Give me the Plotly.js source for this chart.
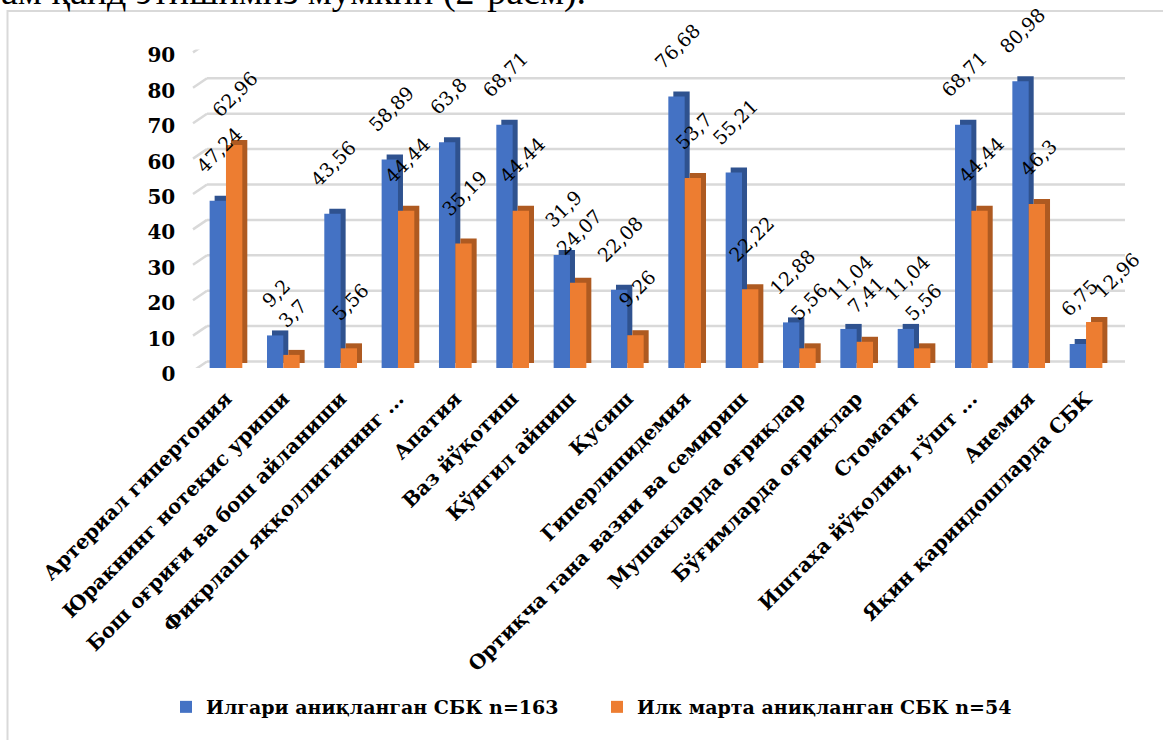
<!DOCTYPE html>
<html>
<head>
<meta charset="utf-8">
<script src="https://cdn.plot.ly/plotly-3.0.1.min.js"></script>
<style>
  html, body { margin: 0; padding: 0; background: #ffffff; }
  #chart { width: 1163px; height: 740px; }
</style>
</head>
<body>
<div id="chart"></div>
<script>
// Symptom categories (x axis)
const categories = [
  "Артериал гипертония",
  "Юракнинг нотекис уриши",
  "Бош оғриғи ва бош айланиши",
  "Фикрлаш яққоллигининг ...",
  "Апатия",
  "Ваз йўқотиш",
  "Кўнгил айниш",
  "Қусиш",
  "Гиперлипидемия",
  "Ортиқча тана вазни ва семириш",
  "Мушакларда оғриқлар",
  "Бўғимларда оғриқлар",
  "Стоматит",
  "Иштаҳа йўқолии, гўшт ...",
  "Анемия",
  "Яқин қариндошларда СБК"
];

// Series values, %
const seriesPrevName = "Илгари аниқланган СБК n=163";
const seriesPrev = [47.24, 9.2, 43.56, 58.89, 63.8, 68.71, 31.9, 22.08, 76.68, 55.21, 12.88, 11.04, 11.04, 68.71, 80.98, 6.75];

const seriesNewName = "Илк марта аниқланган СБК n=54";
const seriesNew = [62.96, 3.7, 5.56, 44.44, 35.19, 44.44, 24.07, 9.26, 53.7, 22.22, 5.56, 7.41, 5.56, 44.44, 46.3, 12.96];

// Value axis ticks
const yTicks = [0, 10, 20, 30, 40, 50, 60, 70, 80, 90];

// ---- geometry / style ----
const W = 1163, H = 740;
const X_LEFT = 197.3, X_RIGHT = 1114.7;    // category axis extent (px)
const Y_ZERO = 368, Y_TOP = 49.4;          // value axis: 0 and 90 (px)
const Y_MAX = 90;
const BAR_W = 0.285;                        // bar width in category units
const DEPTH_PX = 5;                         // extrusion of the 3D look
const GRID_BACK_PX = 6.5;                   // back-wall grid lift
const catPx = (X_RIGHT - X_LEFT) / categories.length;
const unitPx = (Y_ZERO - Y_TOP) / Y_MAX;
const dxUnits = DEPTH_PX / catPx;
const dyUnits = DEPTH_PX / unitPx;

const BLUE = "#4472C4", BLUE_DARK = "#2F528F";
const ORANGE = "#ED7D31", ORANGE_DARK = "#AE5A21";
const SERIF = "'DejaVu Serif', 'Liberation Serif', serif";

// Hand-placed label nudges (px) for labels that would collide
const labelNudgeNew = { 15: { dx: 22, dy: -4 } };

const fmt = v => String(v).replace(".", ",");

function depthTrace(vals, offset, color) {
  return {
    type: "bar", x: categories, y: vals,
    base: vals.map(() => dyUnits),
    offset: offset + dxUnits, width: BAR_W,
    marker: { color: color, line: { width: 0 } },
    showlegend: false, hoverinfo: "skip"
  };
}
function frontTrace(vals, offset, color, name) {
  return {
    type: "bar", name: name, x: categories, y: vals,
    offset: offset, width: BAR_W,
    marker: { color: color, line: { width: 0 } },
    hovertemplate: "%{x}: %{y}<extra></extra>"
  };
}

const traces = [
  depthTrace(seriesPrev, -BAR_W, BLUE_DARK),
  frontTrace(seriesPrev, -BAR_W, BLUE, seriesPrevName),
  depthTrace(seriesNew, 0, ORANGE_DARK),
  frontTrace(seriesNew, 0, ORANGE, seriesNewName)
];

// Back-wall gridlines plus the short floor diagonals at the left
const shapes = [];
yTicks.forEach(v => {
  shapes.push({
    type: "line", layer: "below", xref: "paper",
    x0: 207 / W, x1: 1125 / W,
    yref: "y", ysizemode: "pixel", yanchor: v, y0: GRID_BACK_PX, y1: GRID_BACK_PX,
    line: { color: "#d9d9d9", width: 2.5 }
  });
  shapes.push({
    type: "line", layer: "below", xref: "paper",
    x0: 193 / W, x1: 207 / W,
    yref: "y", ysizemode: "pixel", yanchor: v, y0: -3, y1: GRID_BACK_PX,
    line: { color: "#d9d9d9", width: 2.5 }
  });
});
// Chart frame
shapes.push({
  type: "rect", xref: "paper", yref: "paper", layer: "below",
  x0: 7.5 / W, x1: 1.01, y0: -0.01, y1: 1 - 11 / H,
  line: { color: "#d9d9d9", width: 2 }, fillcolor: "rgba(0,0,0,0)"
});

// Rotated value labels above each bar
const annotations = [];
function addLabels(vals, shift, nudges) {
  vals.forEach((v, i) => {
    const n = nudges[i] || { dx: 0, dy: 0 };
    annotations.push({
      x: categories[i], y: v, xref: "x", yref: "y",
      text: fmt(v), showarrow: false, textangle: -45,
      xanchor: "center", yanchor: "bottom",
      xshift: shift + n.dx, yshift: 21 + n.dy,
      font: { family: SERIF, size: 19, color: "#000000" }
    });
  });
}
addLabels(seriesPrev, -catPx * BAR_W / 2 + 1, {});
addLabels(seriesNew, catPx * BAR_W / 2 + 1, labelNudgeNew);

// Body text line running above the chart frame
annotations.push({
  xref: "paper", yref: "paper", x: 588 / W, y: 1 - 15 / H,
  xanchor: "right", yanchor: "bottom", showarrow: false,
  text: "ам қайд этишимиз мумкин (2-расм).",
  font: { family: "'Liberation Serif', serif", size: 38, color: "#000000" }
});

const layout = {
  width: W, height: H, autosize: false,
  margin: { l: 0, r: 0, t: 0, b: 0, pad: 0 },
  paper_bgcolor: "#ffffff", plot_bgcolor: "rgba(0,0,0,0)",
  barmode: "overlay",
  showlegend: true,
  legend: {
    orientation: "h", x: 166 / W, xanchor: "left", y: 1 - 707 / H, yanchor: "middle",
    font: { family: SERIF, size: 19, color: "#000000", weight: "bold" },
    itemwidth: 30, traceorder: "normal",
    entrywidth: 386, entrywidthmode: "pixels"
  },
  xaxis: {
    domain: [X_LEFT / W, X_RIGHT / W],
    type: "category", range: [-0.5, categories.length - 0.5],
    tickangle: -45, showgrid: false, zeroline: false, showline: false, ticks: "",
    ticklabelstandoff: 14,
    tickfont: { family: SERIF, size: 20, color: "#000000", weight: "bold" },
    fixedrange: true
  },
  yaxis: {
    domain: [1 - Y_ZERO / H, 1 - Y_TOP / H],
    range: [0, Y_MAX], tickvals: yTicks, ticktext: yTicks.map(String),
    showgrid: false, zeroline: false, showline: false, ticks: "",
    ticklabelstandoff: 21, ticklabelshift: 6,
    tickfont: { family: SERIF, size: 20, color: "#000000", weight: "bold" },
    fixedrange: true
  },
  shapes: shapes,
  annotations: annotations
};

Plotly.newPlot("chart", traces, layout, { displayModeBar: false, staticPlot: true });
</script>
</body>
</html>
